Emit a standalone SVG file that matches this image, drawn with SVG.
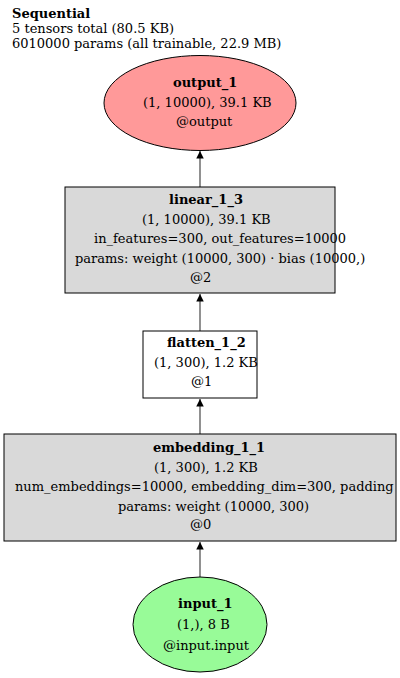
<svg xmlns="http://www.w3.org/2000/svg" width="400" height="678" viewBox="0 0 400 678">
<style>
text{font-family:"DejaVu Serif","Liberation Serif",serif;font-size:13px;fill:#000}
.b{font-weight:bold}
.box{fill:#d9d9d9;stroke:#000;stroke-width:1}
.wbox{fill:#fff;stroke:#000;stroke-width:1}
.edge{stroke:#555;stroke-width:1.3;fill:none}
</style>
<defs>
<marker id="ah" viewBox="0 0 10 10" refX="10" refY="5" markerWidth="7.5" markerHeight="7.5" markerUnits="userSpaceOnUse" orient="auto">
<path d="M0,0 L10,5 L0,10 z" fill="#000"/>
</marker>
</defs>
<rect width="400" height="678" fill="#fff"/>
<g id="header">
<text class="b" x="12" y="18">Sequential</text>
<text x="12" y="33">5 tensors total (80.5 KB)</text>
<text x="12" y="48">6010000 params (all trainable, 22.9 MB)</text>
</g>
<g id="edges">
<line class="edge" x1="200" y1="187" x2="200" y2="151" marker-end="url(#ah)"/>
<line class="edge" x1="200" y1="331" x2="200" y2="294" marker-end="url(#ah)"/>
<line class="edge" x1="200" y1="434" x2="200" y2="399" marker-end="url(#ah)"/>
<line class="edge" x1="200" y1="577" x2="200" y2="542" marker-end="url(#ah)"/>
</g>
<g id="output_1">
<ellipse cx="200" cy="103" rx="96" ry="47.5" fill="#ff9999" stroke="#000"/>
<text class="b" x="173" y="87">output_1</text>
<text x="143" y="107">(1, 10000), 39.1 KB</text>
<text x="176" y="126">@output</text>
</g>
<g id="linear_1_3">
<rect class="box" x="65" y="187" width="270" height="106"/>
<text class="b" x="169" y="204">linear_1_3</text>
<text x="142" y="224">(1, 10000), 39.1 KB</text>
<text x="94" y="243">in_features=300, out_features=10000</text>
<text x="75" y="263">params: weight (10000, 300) · bias (10000,)</text>
<text x="190" y="282">@2</text>
</g>
<g id="flatten_1_2">
<rect class="wbox" x="143" y="331" width="114" height="67"/>
<text class="b" x="167" y="347">flatten_1_2</text>
<text x="154" y="367">(1, 300), 1.2 KB</text>
<text x="191" y="386">@1</text>
</g>
<g id="embedding_1_1">
<rect class="box" x="4" y="434" width="392" height="107"/>
<text class="b" x="153" y="452">embedding_1_1</text>
<text x="154" y="472">(1, 300), 1.2 KB</text>
<text x="15" y="491">num_embeddings=10000, embedding_dim=300, padding</text>
<text x="118" y="511">params: weight (10000, 300)</text>
<text x="190" y="529">@0</text>
</g>
<g id="input_1">
<ellipse cx="200" cy="624.5" rx="67" ry="47.5" fill="#98fb98" stroke="#000"/>
<text class="b" x="178" y="608">input_1</text>
<text x="177" y="629">(1,), 8 B</text>
<text x="163" y="650">@input.input</text>
</g>
</svg>
